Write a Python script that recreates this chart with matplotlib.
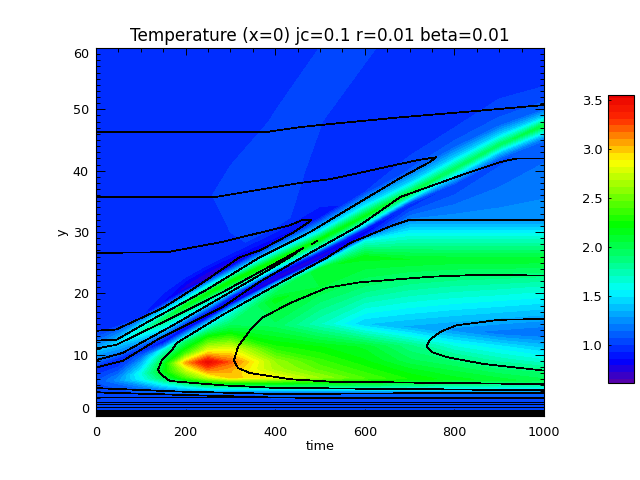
import numpy as np
import matplotlib
matplotlib.use("Agg")
import matplotlib.pyplot as plt
from matplotlib.colors import LinearSegmentedColormap, BoundaryNorm

times = [0, 50, 100, 150, 200, 250, 300, 400, 500, 600, 700, 800, 900, 1000]

# y position of each feature row, per time column
y_rows = [
 [0]*14,
 [3.5]*14,
 [4.2]*14,
 [5.0]*14,
 [5.6,5.8,6.0,6.2,6.3,6.3,6.3,6.3,6.3,6.2,6.1,6.0,5.9,5.8],
 [6.0,6.4,6.9,7.2,7.4,7.5,7.5,7.6,7.6,7.5,7.4,7.3,7.2,7.2],
 [6.4,7.0,7.8,8.5,8.7,8.8,8.8,8.9,9,9,9,9,9,9],
 [6.7,7.5,8.8,9.6,10.2,10.6,10.8,11,11.2,11.3,11.5,11.6,11.4,10.8],
 [7.0,8.0,9.5,10.8,12,13,14,14.7,15,15,14.5,14,13.5,13.5],
 [7.2,8.4,9.9,11.2,12.9,14.6,16.4,19,21,21,21,21,21,21],
 [7.3,8.5,10,11.4,13.4,15.3,17.3,20.8,24,26,25.5,25.5,25.5,25.5],
 [7.4,8.7,10.3,11.7,13.8,15.7,17.9,21.7,25.1,28.5,29.5,29.5,29.5,29.5],
 [7.45,8.75,10.4,11.85,14,16,18.2,22,25.5,29.2,32,32,32,32],
 [7.5,8.8,10.5,12,14.2,16.2,18.5,22.5,26,29.8,34.3,37.6,41.6,44.6],
 [8.2,9.5,11.2,12.8,15.1,17.1,19.4,23.4,26.7,30.5,34.8,38.1,42.1,45.2],
 [9,10.4,12.2,14,16.2,18.2,20.2,24,27.4,31.2,35.3,38.9,42.9,46],
 [10.5,12,13.8,15.7,18,20,21.9,25.3,28.8,32.6,36.3,40.3,44.2,47.4],
 [11.7,13.2,15,17,19.2,21.3,23.1,26.8,30.2,34.3,38,42,45.8,48.7],
 [13.5,14.8,16.2,18.5,20.8,22.6,24.6,28.6,32.5,36.5,40,44,47.5,50],
 [15.5,17,19,21,23,25,27,31,35,39,43,47,50,52],
 [36,36,36,36,36,36,36,38,41,44,47,50,53,55],
 [48,48,48,48,48,48,48,48,48,50,52,54,56,57.5],
 [60]*14,
]
# temperature at each feature row, per time column
temp_rows = [
 [1.03]*14,
 [1.05,1.05,1.05,1.05,1.05,1.06,1.06,1.08,1.08,1.08,1.08,1.08,1.08,1.08],
 [1.05,1.05,1.1,1.2,1.3,1.4,1.4,1.4,1.4,1.4,1.4,1.4,1.4,1.4],
 [1.05,1.1,1.25,1.5,1.7,1.9,1.95,2.0,2.0,1.95,1.85,1.8,1.75,1.75],
 [1.05,1.25,1.55,1.95,2.4,2.75,3.0,2.85,2.6,2.4,2.25,2.15,2.08,2.0],
 [1.03,1.2,1.6,2.15,2.7,3.15,3.05,2.65,2.45,2.3,2.15,2.05,1.95,1.9],
 [1.0,1.12,1.45,2.1,3.05,3.5,3.2,2.6,2.35,2.2,2.0,1.9,1.75,1.65],
 [1.0,1.05,1.3,1.9,2.4,2.85,2.85,2.3,2.2,2.1,1.85,1.6,1.5,1.45],
 [0.98,1.0,1.15,1.6,1.95,2.2,2.1,1.95,1.7,1.42,1.33,1.25,1.17,1.13],
 [0.97,0.98,1.1,1.25,1.5,1.6,1.7,2.15,2.05,1.9,1.8,1.75,1.72,1.68],
 [0.96,0.98,1.05,1.15,1.25,1.35,1.45,1.85,2.1,2.15,2.12,2.1,2.1,2.1],
 [0.95,0.96,1.0,1.02,1.05,1.1,1.1,1.2,1.2,1.6,1.6,1.6,1.6,1.6],
 [0.95,0.95,0.97,0.95,0.92,0.88,0.82,0.8,0.82,0.95,1.22,1.25,1.25,1.25],
 [0.95,0.93,0.92,0.87,0.83,0.8,0.77,0.72,0.72,0.8,0.95,1.0,1.05,1.1],
 [1.0,1.0,1.02,1.02,0.98,0.95,0.93,0.9,0.9,0.92,1.05,1.15,1.15,1.2],
 [1.15,1.2,1.3,1.45,1.5,1.5,1.5,1.5,1.5,1.5,1.45,1.4,1.4,1.45],
 [1.35,1.45,1.7,1.95,2.15,2.2,2.25,2.25,2.2,2.15,2.05,1.95,1.95,2.05],
 [1.2,1.25,1.4,1.5,1.5,1.5,1.5,1.5,1.5,1.5,1.45,1.45,1.45,1.45],
 [1.0,0.98,0.93,0.85,0.72,0.68,0.72,0.82,0.87,1.0,1.08,1.1,1.1,1.12],
 [0.98,0.98,0.98,0.98,0.97,0.97,0.99,1.02,0.96,0.98,0.98,1.0,1.04,1.04],
 [0.96,0.96,0.96,0.96,0.96,0.995,1.02,1.02,0.99,0.97,0.97,0.97,0.97,0.97],
 [0.96,0.96,0.96,0.96,0.96,0.96,0.97,1.005,1.002,0.97,0.97,0.97,0.97,0.97],
 [0.96,0.96,0.96,0.96,0.96,0.96,0.96,0.97,1.0005,1.01,0.97,0.96,0.96,0.96],
]

# contour lines: (time, y)
line_top = [(0,46.3),(380,46.3),(455,47.1),(522,47.6),(679,48.7),(828,49.6),(1000,50.7)]
line_upper = [(0,35.7),(266,35.7),(455,38),(522,38.6),(586,39.6),(716,41.7),(760,42.2),
              (745,41.4),(679,38.8),(578,34.4),(478,30),(366,25.9),(245,20.5),(185,18.1),
              (112,15.2),(45,12.4),(0,12.3)]
line_loop = [(0,26.6),(158,26.7),(283,28.4),(433,31.1),(462,32),(481,32),(471,31.4),
             (440,29.9),(366,27),(321,25.9),(223,21),(149,17.6),(45,14.1),(0,13.9)]
line_tip = [(0,11),(45,11.6),(172,16.1),(283,20.2),(433,26.2),(462,27.4),(433,25.9),
            (359,22.7),(172,14.8),(60,10.3),(0,9.1)]
line_dash = [(482,28),(494,28.6)]
line_flank_a = [(0,7.9),(60,9),(136,12.4),(283,17.8),(366,21.9),(478,26.6),(589,31.1),
                (679,35.7),(828,39.6),(902,41.4),(940,42),(1000,42)]
line_flank_b = [(1000,32),(701,32),(663,31.1),(567,28.2),(515,25.8),(406,21.5),(283,16.5),
                (180,11.9),(170,10.8),(147,9.1),(138,7.5),(147,6.7),(165,5.7),(283,5),
                (395,4.6),(522,4.5),(1000,4.2)]
line_lobe = [(1000,22.9),(850,23),(745,22.7),(589,21.8),(515,20.9),(433,18.4),(373,16.1),
             (344,14),(317,11.3),(308,9.1),(317,7.8),(344,7),(433,6),(522,5.6),(1000,5.2)]
line_inner = [(1000,15.8),(902,15.7),(805,14.8),(768,13.7),(745,12.4),(738,11.3),(750,10.4),
              (783,9.6),(864,8.5),(1000,7.4)]
contour_lines = [line_top, line_upper, line_loop, line_tip, line_dash,
                 line_flank_a, line_flank_b, line_lobe, line_inner]
floor_stepped = [[(0,4.55),(180,4.0),(400,3.6),(1000,3.8)],
                 [(0,3.85),(400,3.0),(1000,2.95)]]
floor_levels = [3.1,2.33,1.96,1.52,1.0,0.75,0.6,0.45,0.3,0.15]

cmap_values = [0.6,0.82,1.54,1.85,2.2,2.87,3.3,3.55]
cmap_colors = [(0.33,0,0.67),(0,0,1),(0,1,1),(0,1,0.5),(0,1,0),(1,1,0),(1,0.15,0),(0.9,0,0)]
levels = [0.58+0.07*i for i in range(44)]
y_ticks_bar = [1.0,1.5,2.0,2.5,3.0,3.5]

W, H = 640, 480
plt.rcParams['font.family'] = 'DejaVu Sans'
fig = plt.figure(figsize=(W/100, H/100), dpi=100)
ax = fig.add_axes([96/W, 1-416/H, 448/W, 368/H])

T = np.tile(np.array(times, float), (len(y_rows), 1))
Y = np.array(y_rows, float)
Z = np.array(temp_rows, float)
nodes = [(v-cmap_values[0])/(cmap_values[-1]-cmap_values[0]) for v in cmap_values]
cmap = LinearSegmentedColormap.from_list('idl', list(zip(nodes, cmap_colors)), N=256)
norm = BoundaryNorm(levels, 256)
cf = ax.contourf(T, Y, Z, levels=levels, cmap=cmap, norm=norm, antialiased=False)

line_w = 0.55
for pts in contour_lines + floor_stepped:
    xs, ys = zip(*pts)
    ax.plot(xs, ys, color='k', lw=line_w, antialiased=False)
for v in floor_levels:
    ax.plot([0,1000],[v,v], color='k', lw=line_w, antialiased=False)

ax.set_xlim(0,1000); ax.set_ylim(0,60)
ax.set_xticks(range(0,1001,200)); ax.set_xticks(range(0,1001,50), minor=True)
ax.set_yticks(range(0,61,10)); ax.set_yticks(range(0,61,1), minor=True)
ax.tick_params(which='major', axis='x', direction='in', top=True, length=5.2, width=0.7, labelsize=9.2, pad=7)
ax.tick_params(which='minor', axis='x', direction='in', top=True, length=2.6, width=0.7)
ax.tick_params(which='major', axis='y', direction='in', right=True, length=6.5, width=0.7, labelsize=9.2, pad=5)
ax.tick_params(which='minor', axis='y', direction='in', right=True, length=3.2, width=0.7)
for s in ax.spines.values():
    s.set_linewidth(0.8)
ylabels = ax.get_yticklabels()
ylabels[0].set_va('bottom')
ylabels[-1].set_va('top')
ax.set_xlabel('time', fontsize=9.2, labelpad=1)
ax.set_ylabel('y', fontsize=9.2, labelpad=3)
ax.set_title('Temperature (x=0) jc=0.1 r=0.01 beta=0.01', fontsize=12.2, pad=5)

cax = fig.add_axes([608/W, 1-383/H, 26/W, 288/H])
cb = fig.colorbar(cf, cax=cax, ticks=y_ticks_bar, format='%.1f', drawedges=False)
cax.set_ylim(0.61,3.55)
cax.minorticks_off()
cax.yaxis.set_ticks_position('left')
cax.tick_params(axis='y', which='both', direction='in', length=2, width=0.6, labelsize=9.4, pad=4)
cb.outline.set_linewidth(0.8)
fig.savefig('out.png', dpi=100)
